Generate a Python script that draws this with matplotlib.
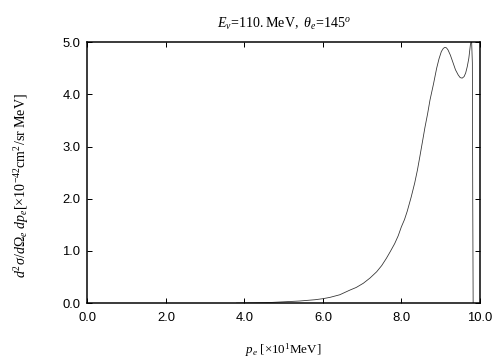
import matplotlib
matplotlib.use("Agg")
import matplotlib.pyplot as plt

# cross section vs electron momentum
p_e = [3.8, 4.2, 4.6, 5.0, 5.4, 5.8, 6.0, 6.18, 6.43, 6.69, 6.85, 7.03, 7.2,
       7.37, 7.5, 7.62, 7.72, 7.83, 7.92, 8.0, 8.08, 8.15, 8.25, 8.34, 8.41,
       8.47, 8.54, 8.6, 8.67, 8.73, 8.82, 8.9, 8.96, 9.02, 9.07, 9.11, 9.15,
       9.19, 9.25, 9.32, 9.38, 9.45, 9.5, 9.55, 9.6, 9.64, 9.68, 9.72, 9.76,
       9.79, 9.81, 9.82, 9.83]
xsec = [0.0, 0.004, 0.01, 0.025, 0.04, 0.065, 0.085, 0.11, 0.16, 0.25, 0.30,
        0.38, 0.48, 0.60, 0.72, 0.86, 0.99, 1.14, 1.29, 1.46, 1.60, 1.76, 2.03,
        2.30, 2.55, 2.80, 3.10, 3.36, 3.63, 3.89, 4.20, 4.50, 4.68, 4.82, 4.88,
        4.90, 4.89, 4.85, 4.75, 4.60, 4.47, 4.37, 4.32, 4.31, 4.34, 4.41, 4.53,
        4.69, 4.95, 5.05, 4.6, 2.0, 0.0]

x_ticks = [0, 2, 4, 6, 8, 10]
y_ticks = [0, 1, 2, 3, 4, 5]

plt.rcParams["mathtext.fontset"] = "custom"
plt.rcParams["mathtext.rm"] = "Liberation Serif"
plt.rcParams["mathtext.it"] = "Liberation Serif:italic"

fig = plt.figure(figsize=(7, 5), dpi=72)
ax = fig.add_axes([0.1736, 0.158, 0.7784, 0.725])
ax.plot(p_e, xsec, color="#333333", lw=0.8)

ax.set_xlim(0, 10)
ax.set_ylim(0, 5)
ax.set_xticks(x_ticks)
ax.set_yticks(y_ticks)
ax.set_xticklabels([f"{v:.1f}" for v in x_ticks], family="Liberation Sans", fontsize=13)
ax.set_yticklabels([f"{v:.1f}" for v in y_ticks], family="Liberation Sans", fontsize=13)
ax.tick_params(axis="x", pad=9)
ax.tick_params(axis="y", pad=7)
ax.tick_params(direction="in", top=True, right=True, length=5, width=1)
for s in ax.spines.values():
    s.set_linewidth(1.5)

ax.set_title(r"$E_{\nu}\!=\!110.\mathrm{MeV},\ \theta_e\!=\!145^o$",
             fontsize=14, family="Liberation Serif", pad=14)
ax.set_xlabel(r"$p_e\ [\times10^{1}\mathrm{MeV}]$", fontsize=13,
              family="Liberation Serif")
ax.xaxis.set_label_coords(0.5, -0.145)
ax.set_ylabel(r"$d^2\sigma/d\Omega_e\ dp_e[\times10^{-42}\mathrm{cm}^2/\mathrm{sr\ MeV}]$",
              fontsize=14, family="Liberation Serif")
ax.yaxis.set_label_coords(-0.145, 0.45)

fig.savefig("out.png", dpi=72)
